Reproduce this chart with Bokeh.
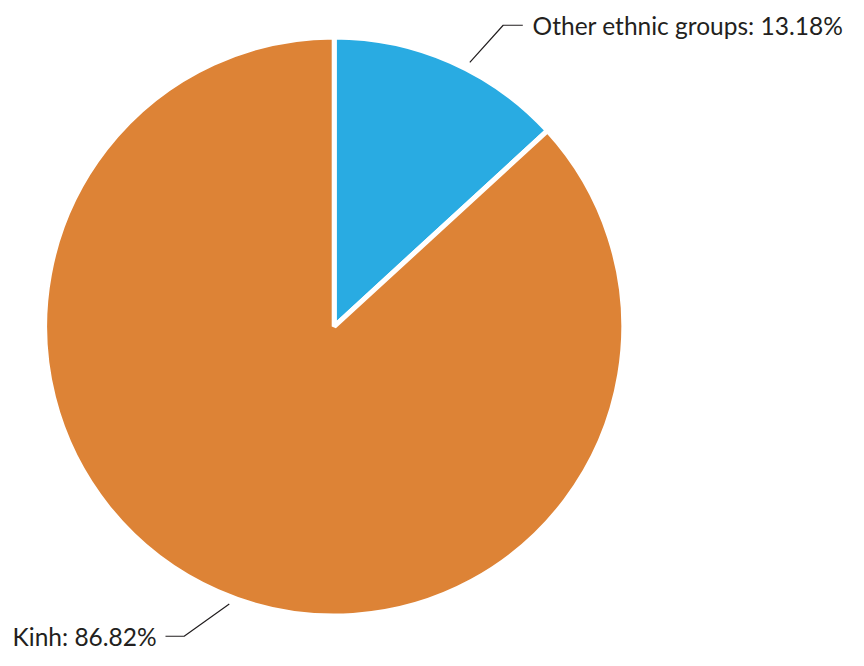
import math
from bokeh.plotting import figure
from bokeh.models import Range1d
from bokeh.core.properties import value
from bokeh.embed import file_html
from bokeh.resources import INLINE

# ---- data ----
categories = ["Other ethnic groups", "Kinh"]
shares = [13.18, 86.82]
colors = ["#29ABE2", "#DD8336"]
label_texts = [f"{c}: {v:.2f}%" for c, v in zip(categories, shares)]

# ---- layout (reference-pixel units; y data = 666 - page y) ----
W, H = 848, 650
CX, CY, R = 340, 666 - 334, 295
FONT = "Lato"
FS = "24.5px"

p = figure(width=W, height=H, x_range=Range1d(0, 864), y_range=Range1d(0, 666),
           output_backend="svg", toolbar_location=None, min_border=0)
p.axis.visible = False
p.grid.visible = False
p.outline_line_color = None
p.background_fill_color = "white"
p.border_fill_color = "white"

total = sum(shares)
start = math.pi / 2
starts, ends = [], []
for v in shares:
    a = 2 * math.pi * v / total
    starts.append(start)
    ends.append(start - a)
    start -= a

p.wedge(x=[CX] * len(shares), y=[CY] * len(shares), radius=R, start_angle=starts, end_angle=ends,
        direction="clock", fill_color=colors, line_color="white", line_width=5)

# leader lines: start position within slice (fraction), elbow offsets, label side
leader_frac = [0.57, 0.49]
leader_r = 1.03
elbow = [(34, 38), (-46, -33)]
hseg = [20, -19]
gap = [10, -9]
aligns = ["left", "right"]
for i in range(len(shares)):
    ang = starts[i] + (ends[i] - starts[i]) * leader_frac[i]
    x0 = CX + leader_r * R * math.cos(ang)
    y0 = CY + leader_r * R * math.sin(ang)
    x1, y1 = x0 + elbow[i][0], y0 + elbow[i][1]
    x2 = x1 + hseg[i]
    p.line([x0, x1, x2], [y0, y1, y1], line_color="#231F20", line_width=1.2)
    p.text(x=[x2 + gap[i]], y=[y1], text=[label_texts[i]], text_font=value(FONT), text_font_size=FS,
           text_align=aligns[i], text_baseline="middle", text_color="#231F20")

open("out.html", "w").write(file_html(p, INLINE))
